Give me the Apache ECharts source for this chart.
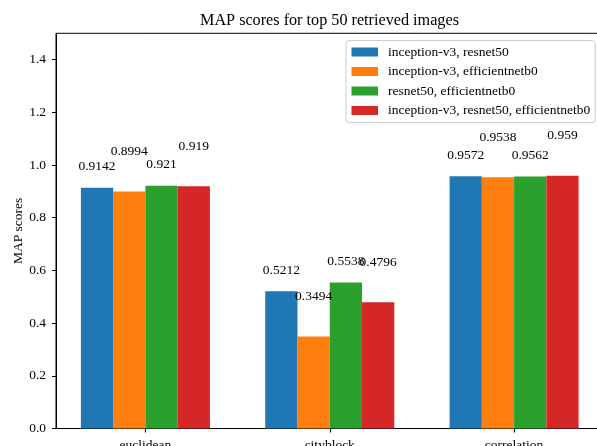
<!DOCTYPE html>
<html>
<head>
<meta charset="utf-8">
<script src="https://cdn.jsdelivr.net/npm/echarts@6/dist/echarts.min.js"></script>
<style>
html,body{margin:0;padding:0;background:#fff;}
#chart{width:597px;height:446px;}
</style>
</head>
<body>
<div id="chart"></div>
<script>
// ---- data ----
const categories = ['euclidean', 'cityblock', 'correlation'];
const seriesNames = [
  'inception-v3, resnet50',
  'inception-v3, efficientnetb0',
  'resnet50, efficientnetb0',
  'inception-v3, resnet50, efficientnetb0'
];
const s1 = [0.9142, 0.5212, 0.9572];
const s2 = [0.8994, 0.3494, 0.9538];
const s3 = [0.921, 0.5538, 0.9562];
const s4 = [0.919, 0.4796, 0.959];
const yTicks = [0, 0.2, 0.4, 0.6, 0.8, 1.0, 1.2, 1.4];

// ---- layout ----
const colors = ['#1f77b4', '#ff7f0e', '#2ca02c', '#d62728'];
const FONT = 'Liberation Serif';
const FS = 13.5;
const barUnits = 0.175;               // bar width in category units
const xMin = -0.485, xMax = 2.485;
const gridLeft = 56, gridTop = 33.3, gridWidth = 547.5, gridHeight = 395.2;
const pxPerUnit = gridWidth / (xMax - xMin);
const barPx = barUnits * pxPerUnit;
const allSeries = [s1, s2, s3, s4];

const series = allSeries.map((vals, j) => ({
  name: seriesNames[j],
  type: 'bar',
  barWidth: barPx,
  barGap: '-100%',
  itemStyle: { color: colors[j] },
  data: vals.map((v, i) => [i + (j - 1.5) * barUnits, v]),
  label: {
    show: true,
    position: 'top',
    distance: j % 2 === 0 ? 14 : 33,
    color: '#000',
    fontFamily: FONT,
    fontSize: FS,
    formatter: p => String(p.value[1])
  },
  emphasis: { disabled: true }
}));

const chart = echarts.init(document.getElementById('chart'), null, { renderer: 'canvas' });
chart.setOption({
  animation: false,
  backgroundColor: '#fff',
  textStyle: { fontFamily: FONT },
  title: {
    text: 'MAP scores for top 50 retrieved images',
    left: 200,
    top: 13,
    padding: 0,
    textStyle: { fontFamily: FONT, fontSize: 16.2, fontWeight: 'normal', color: '#000' }
  },
  legend: {
    data: seriesNames,
    orient: 'vertical',
    left: 346,
    top: 40.5,
    padding: [4.5, 5, 5, 5.5],
    itemGap: 5.5,
    itemWidth: 26.5,
    itemHeight: 9,
    icon: 'rect',
    borderColor: '#cccccc',
    borderWidth: 1,
    borderRadius: 3,
    backgroundColor: 'rgba(255,255,255,0.8)',
    textStyle: { fontFamily: FONT, fontSize: FS, color: '#000', padding: [0, 0, 0, 5] },
    selectedMode: false
  },
  grid: {
    left: gridLeft, top: gridTop, width: gridWidth, height: gridHeight,
    show: true, borderColor: '#000', borderWidth: 1, backgroundColor: 'transparent',
    containLabel: false,
    outerBoundsMode: 'none'
  },
  xAxis: {
    type: 'value',
    min: xMin,
    max: xMax,
    axisLine: { show: true, onZero: false, lineStyle: { color: '#000', width: 1 } },
    axisTick: { show: true, length: 4, lineStyle: { color: '#000' }, customValues: [0, 1, 2] },
    axisLabel: {
      customValues: [0, 1, 2],
      formatter: v => categories[Math.round(v)] || '',
      margin: 10, color: '#000', fontFamily: FONT, fontSize: FS
    },
    splitLine: { show: false }
  },
  yAxis: {
    type: 'value',
    min: 0,
    max: 1.5,
    name: 'MAP scores',
    nameLocation: 'middle',
    nameGap: 31,
    nameMoveOverlap: false,
    nameTextStyle: { fontFamily: FONT, fontSize: FS, color: '#000' },
    axisLine: { show: true, onZero: false, lineStyle: { color: '#000', width: 1 } },
    axisTick: { show: true, length: 4, lineStyle: { color: '#000' }, customValues: yTicks },
    axisLabel: {
      customValues: yTicks,
      formatter: v => v.toFixed(1),
      margin: 10, color: '#000', fontFamily: FONT, fontSize: FS
    },
    splitLine: { show: false }
  },
  series: series
});
</script>
</body>
</html>
